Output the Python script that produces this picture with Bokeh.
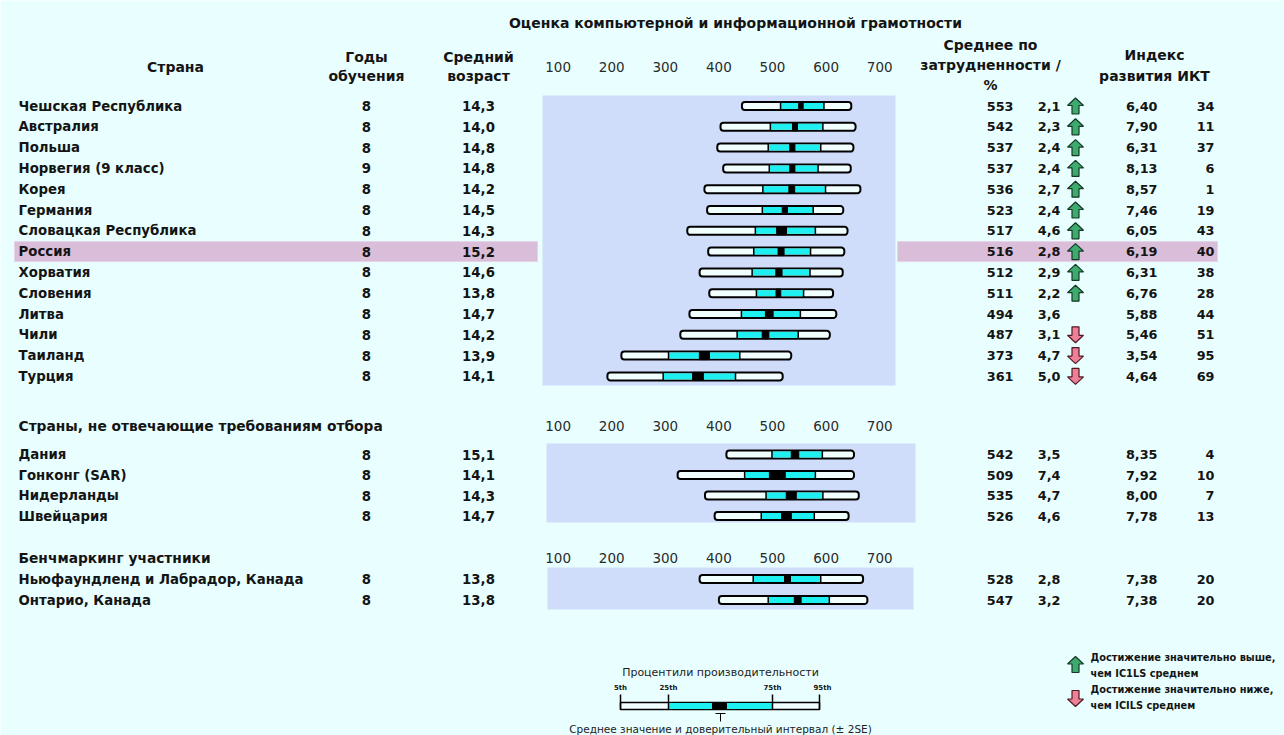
from bokeh.plotting import figure
from bokeh.models import Range1d
from bokeh.core.properties import value
from bokeh.embed import file_html
from bokeh.resources import INLINE

# ---------------- data ----------------
names1 = ["Чешская Республика", "Австралия", "Польша", "Норвегия (9 класс)", "Корея",
          "Германия", "Словацкая Республика", "Россия", "Хорватия", "Словения",
          "Литва", "Чили", "Таиланд", "Турция"]
years1 = [8, 8, 8, 9, 8, 8, 8, 8, 8, 8, 8, 8, 8, 8]
ages1 = [14.3, 14.0, 14.8, 14.8, 14.2, 14.5, 14.3, 15.2, 14.6, 13.8, 14.7, 14.2, 13.9, 14.1]
means1 = [553, 542, 537, 537, 536, 523, 517, 516, 512, 511, 494, 487, 373, 361]
se1 = [2.1, 2.3, 2.4, 2.4, 2.7, 2.4, 4.6, 2.8, 2.9, 2.2, 3.6, 3.1, 4.7, 5.0]
sig1 = ["up", "up", "up", "up", "up", "up", "up", "up", "up", "up", "", "down", "down", "down"]
ict1 = [6.40, 7.90, 6.31, 8.13, 8.57, 7.46, 6.05, 6.19, 6.31, 6.76, 5.88, 5.46, 3.54, 4.64]
rank1 = [34, 11, 37, 6, 1, 19, 43, 40, 38, 28, 44, 51, 95, 69]
p5_1 = [443, 403, 397, 408, 373, 378, 341, 380, 364, 382, 345, 328, 218, 192]
p25_1 = [515, 496, 492, 494, 482, 481, 468, 465, 462, 470, 442, 434, 306, 296]
p75_1 = [596, 594, 590, 585, 599, 576, 580, 571, 570, 558, 552, 548, 439, 431]
p95_1 = [647, 655, 651, 646, 664, 632, 640, 634, 631, 613, 619, 607, 535, 519]

names2 = ["Дания", "Гонконг (SAR)", "Нидерланды", "Швейцария"]
years2 = [8, 8, 8, 8]
ages2 = [15.1, 14.1, 14.3, 14.7]
means2 = [542, 509, 535, 526]
se2 = [3.5, 7.4, 4.7, 4.6]
ict2 = [8.35, 7.92, 8.00, 7.78]
rank2 = [4, 10, 7, 13]
p5_2 = [414, 323, 374, 392]
p25_2 = [499, 448, 488, 479]
p75_2 = [593, 580, 594, 578]
p95_2 = [652, 652, 661, 642]

names3 = ["Ньюфаундленд и Лабрадор, Канада", "Онтарио, Канада"]
years3 = [8, 8]
ages3 = [13.8, 13.8]
means3 = [528, 547]
se3 = [2.8, 3.2]
ict3 = [7.38, 7.38]
rank3 = [20, 20]
p5_3 = [364, 400]
p25_3 = [464, 492]
p75_3 = [590, 606]
p95_3 = [669, 677]

score_ticks = [100, 200, 300, 400, 500, 600, 700]
highlight = "Россия"

# ---------------- style ----------------
FONT = "DejaVu Sans"
BG = "#E9FFFF"
PANEL = "#D0DDFA"
CYAN = "#1EF0F2"
BARFILL = "#F2FFFF"
PINK = "#D9BDD9"
W, H = 1284, 735

p = figure(width=W, height=H, x_range=Range1d(0, W), y_range=Range1d(H, 0),
           output_backend="svg", toolbar_location=None, min_border=0,
           x_axis_location=None, y_axis_location=None)
p.grid.visible = False
p.outline_line_color = None
p.background_fill_color = BG
p.border_fill_color = BG
# score scale: x_px = 504 + 0.536 * score  (100 -> ~558px, 700 -> ~879px)
p.extra_x_ranges = {"score": Range1d((0 - 504) / 0.536, (W - 504) / 0.536)}


def fmt(v, d):
    return f"{v:.{d}f}".replace(".", ",")


def txt(xs, ys, texts, size="13.3px", style="bold", align="left", color="#141414", rng="default"):
    p.text(x=xs, y=ys, text=texts, text_font=value(FONT), text_font_size=size,
           text_font_style=style, text_align=align, text_baseline="middle",
           text_color=color, x_range_name=rng)


def rows(start, step, n):
    return [start + step * i for i in range(n)]


ys1 = rows(105.5, 20.8, len(names1))
ys2 = rows(454.0, 20.5, len(names2))
ys3 = rows(578.5, 21.0, len(names3))

# panel backgrounds
p.quad(left=[542, 546, 547], right=[895, 915, 913], top=[95, 443, 567], bottom=[385, 522, 609],
       fill_color=PANEL, line_color=None)

# highlight row
hi = names1.index(highlight)
hy = ys1[hi]
p.quad(left=[14, 897], right=[537, 1217], top=[hy - 10, hy - 10], bottom=[hy + 10, hy + 10],
       fill_color=PINK, line_color="#E6D3E6", line_width=1)

# header
txt([735], [22], ["Оценка компьютерной и информационной грамотности"], size="14px", align="center")
txt([175], [66], ["Страна"], size="14px", align="center")
txt([366, 366], [56, 75], ["Годы", "обучения"], size="14px", align="center")
txt([478, 478], [56, 75], ["Средний", "возраст"], size="14px", align="center")
txt([990, 990, 990], [44, 64, 84], ["Среднее по", "затрудненности /", "%"], size="14px", align="center")
txt([1154, 1154], [54, 75], ["Индекс", "развития ИКТ"], size="14px", align="center")

for ty in (66, 425, 557):
    txt(score_ticks, [ty] * len(score_ticks), [str(t) for t in score_ticks],
        size="13.5px", style="normal", align="center", color="#2a2a2a", rng="score")

txt([18], [425], ["Страны, не отвечающие требованиям отбора"], size="13.8px")
txt([18], [557], ["Бенчмаркинг участники"], size="13.8px")


def section(names, years, ages, means, ses, ict, rank, p5, p25, p75, p95, ys):
    n = len(names)
    txt([18] * n, ys, names)
    txt([366] * n, ys, [str(v) for v in years], align="center")
    txt([478] * n, ys, [fmt(v, 1) for v in ages], align="center")
    txt([1013] * n, ys, [str(v) for v in means], align="right", size="12.8px")
    txt([1060] * n, ys, [fmt(v, 1) for v in ses], align="right", size="12.8px")
    txt([1157] * n, ys, [fmt(v, 2) for v in ict], align="right", size="12.8px")
    txt([1214] * n, ys, [str(v) for v in rank], align="right", size="12.8px")
    lo = [m - 2 * s for m, s in zip(means, ses)]
    hi_ = [m + 2 * s for m, s in zip(means, ses)]
    top = [y - 4 for y in ys]
    bot = [y + 4 for y in ys]
    p.quad(left=p5, right=p95, top=top, bottom=bot, fill_color=BARFILL, line_color="black",
           line_width=2, border_radius=3, x_range_name="score")
    p.quad(left=p25, right=lo, top=[y - 3 for y in ys], bottom=[y + 3 for y in ys],
           fill_color=CYAN, line_color=None, x_range_name="score")
    p.quad(left=hi_, right=p75, top=[y - 3 for y in ys], bottom=[y + 3 for y in ys],
           fill_color=CYAN, line_color=None, x_range_name="score")
    p.segment(x0=p25, x1=p25, y0=top, y1=bot, line_color="black", line_width=1.5, x_range_name="score")
    p.segment(x0=p75, x1=p75, y0=top, y1=bot, line_color="black", line_width=1.5, x_range_name="score")
    p.quad(left=lo, right=hi_, top=top, bottom=bot, fill_color="black", line_color="black",
           line_width=1, x_range_name="score")


section(names1, years1, ages1, means1, se1, ict1, rank1, p5_1, p25_1, p75_1, p95_1, ys1)
section(names2, years2, ages2, means2, se2, ict2, rank2, p5_2, p25_2, p75_2, p95_2, ys2)
section(names3, years3, ages3, means3, se3, ict3, rank3, p5_3, p25_3, p75_3, p95_3, ys3)


def arrow_shape(cx, cy, up=True):
    s = -1 if up else 1
    dx = [0, 8, 3.5, 3.5, -3.5, -3.5, -8]
    dy = [8, 0.5, 0.5, -8, -8, 0.5, 0.5]
    return [cx + a for a in dx], [cy + s * b for b in dy]


def arrows(xs_c, ys_c, kinds):
    ux, uy, dxs, dys = [], [], [], []
    for cx, cy, k in zip(xs_c, ys_c, kinds):
        if k == "up":
            a, b = arrow_shape(cx, cy, True)
            ux.append(a); uy.append(b)
        elif k == "down":
            a, b = arrow_shape(cx, cy, False)
            dxs.append(a); dys.append(b)
    if ux:
        p.patches(ux, uy, fill_color="#3DAA6E", line_color="#163826", line_width=1.2)
    if dxs:
        p.patches(dxs, dys, fill_color="#EE7F96", line_color="#4E1A26", line_width=1.2)


arrows([1075] * len(names1), ys1, sig1)

# legend: significance
arrows([1075, 1075], [664, 698], ["up", "down"])
txt([1090, 1090], [657, 673], ["Достижение значительно выше,", "чем IC1LS среднем"], size="9.8px")
txt([1090, 1090], [689, 705], ["Достижение значительно ниже,", "чем ICILS среднем"], size="9.8px")

# legend: percentiles schematic
txt([720], [672], ["Процентили производительности"], size="11px", style="normal", align="center", color="#222")
p.quad(left=[620], right=[819], top=[702], bottom=[709], fill_color=BARFILL, line_color="black", line_width=1.5)
p.quad(left=[668, 726], right=[712, 772], top=[702.5, 702.5], bottom=[708.5, 708.5],
       fill_color=CYAN, line_color=None)
p.quad(left=[712], right=[726], top=[702], bottom=[709], fill_color="black", line_color="black")
p.segment(x0=[620, 668, 772, 819], x1=[620, 668, 772, 819], y0=[694] * 4, y1=[709] * 4,
          line_color="black", line_width=1.5)
txt([620, 668, 772, 822], [687] * 4, ["5th", "25th", "75th", "95th"], size="7px", align="center")
p.segment(x0=[715, 720], x1=[725, 720], y0=[713, 713], y1=[713, 721], line_color="black", line_width=1)
txt([720], [728], ["Среднее значение и доверительный интервал (± 2SE)"], size="10.5px",
    style="normal", align="center", color="#222")

open("out.html", "w").write(file_html(p, INLINE))
